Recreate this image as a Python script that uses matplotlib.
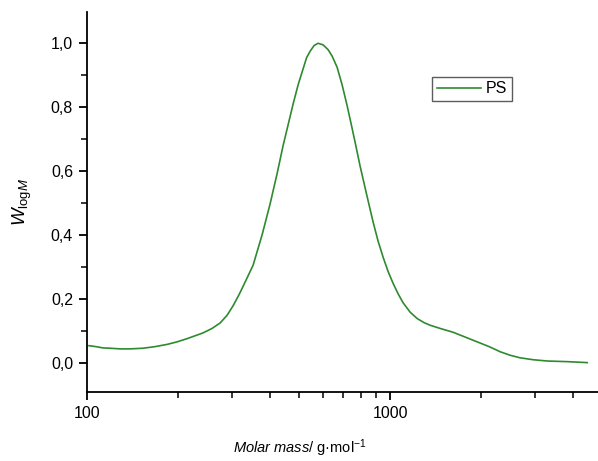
import numpy as np
import matplotlib.pyplot as plt
from matplotlib.ticker import FixedLocator, MultipleLocator, LogLocator, NullFormatter, FuncFormatter

plt.rcParams['font.family'] = ['Liberation Sans', 'DejaVu Sans']
plt.rcParams['mathtext.fontset'] = 'custom'
plt.rcParams['mathtext.rm'] = 'Liberation Sans'
plt.rcParams['mathtext.it'] = 'Liberation Sans:italic'

# molar mass (g/mol) and normalised distribution
molar_mass = [101.5, 107.1, 112.9, 119.1, 128.5, 138.7, 153.0, 167.6, 183.7, 198.2,
              213.8, 227.2, 241.4, 258.5, 274.8, 289.7, 303.3, 317.5, 332.3, 353.1,
              378.1, 401.8, 423.8, 443.6, 460.8, 478.6, 497.1, 516.3, 530.2, 544.5,
              561.3, 578.6, 601.0, 624.3, 643.5, 668.4, 694.3, 721.2, 743.5, 766.4,
              796.1, 839.6, 878.8, 912.8, 948.1, 984.9, 1023, 1063, 1104, 1164,
              1228, 1295, 1355, 1474, 1614, 1768, 1937, 2122, 2307, 2489,
              2685, 2965, 3298, 3839, 4469]
w_logm = [0.053, 0.050, 0.046, 0.045, 0.043, 0.043, 0.045, 0.050, 0.057, 0.065,
          0.075, 0.084, 0.093, 0.107, 0.124, 0.148, 0.178, 0.213, 0.252, 0.305,
          0.400, 0.497, 0.592, 0.680, 0.745, 0.810, 0.870, 0.920, 0.955, 0.975,
          0.993, 1.000, 0.995, 0.980, 0.960, 0.925, 0.870, 0.805, 0.748, 0.690,
          0.615, 0.520, 0.440, 0.380, 0.330, 0.285, 0.248, 0.215, 0.187, 0.158,
          0.138, 0.125, 0.117, 0.106, 0.095, 0.080, 0.065, 0.050, 0.034, 0.023,
          0.015, 0.009, 0.005, 0.003, 0.000]
series_name = "PS"

fig = plt.figure(figsize=(5.98, 4.61), dpi=100)
ax = fig.add_axes([0.1455, 0.1497, 0.8545, 0.8243])

ax.plot(molar_mass, w_logm, color="#2f8a2f", linewidth=1.2, label=series_name)

ax.set_xscale("log")
ax.set_xlim(100, 4850)
ax.set_ylim(-0.092, 1.098)

ax.xaxis.set_major_locator(FixedLocator([100, 1000]))
ax.xaxis.set_major_formatter(FuncFormatter(lambda v, p: f"{v:.0f}"))
ax.xaxis.set_minor_locator(LogLocator(base=10, subs=np.arange(2, 10)))
ax.xaxis.set_minor_formatter(NullFormatter())

ax.yaxis.set_major_locator(MultipleLocator(0.2))
ax.yaxis.set_minor_locator(MultipleLocator(0.1))
ax.yaxis.set_major_formatter(FuncFormatter(lambda v, p: f"{v:.1f}".replace(".", ",").replace("-0,0", "0,0")))

for side in ["top", "right"]:
    ax.spines[side].set_visible(False)
ax.spines["left"].set_linewidth(1.3)
ax.spines["bottom"].set_linewidth(1.3)
ax.tick_params(which="major", direction="out", length=6, width=1.3, labelsize=11.5, pad=4)
ax.tick_params(which="minor", direction="out", length=4, width=1.1)

ax.set_ylabel(r"$\mathit{W}_{\mathrm{log}\mathit{M}}$", fontsize=13.5, labelpad=12)
ax.set_xlabel(r"$\mathit{Molar\ mass}$/ g·mol$^{-1}$", fontsize=10.5)
ax.xaxis.set_label_coords(0.417, -0.12)
ax.xaxis.label.set_va("top")

ax.legend(loc="upper left", bbox_to_anchor=(0.675, 0.83), frameon=True, fancybox=False,
          edgecolor="#333333", fontsize=11.5, handlelength=2.8, handletextpad=0.3,
          borderpad=0.3, borderaxespad=0)

fig.savefig("out.png", dpi=100)
